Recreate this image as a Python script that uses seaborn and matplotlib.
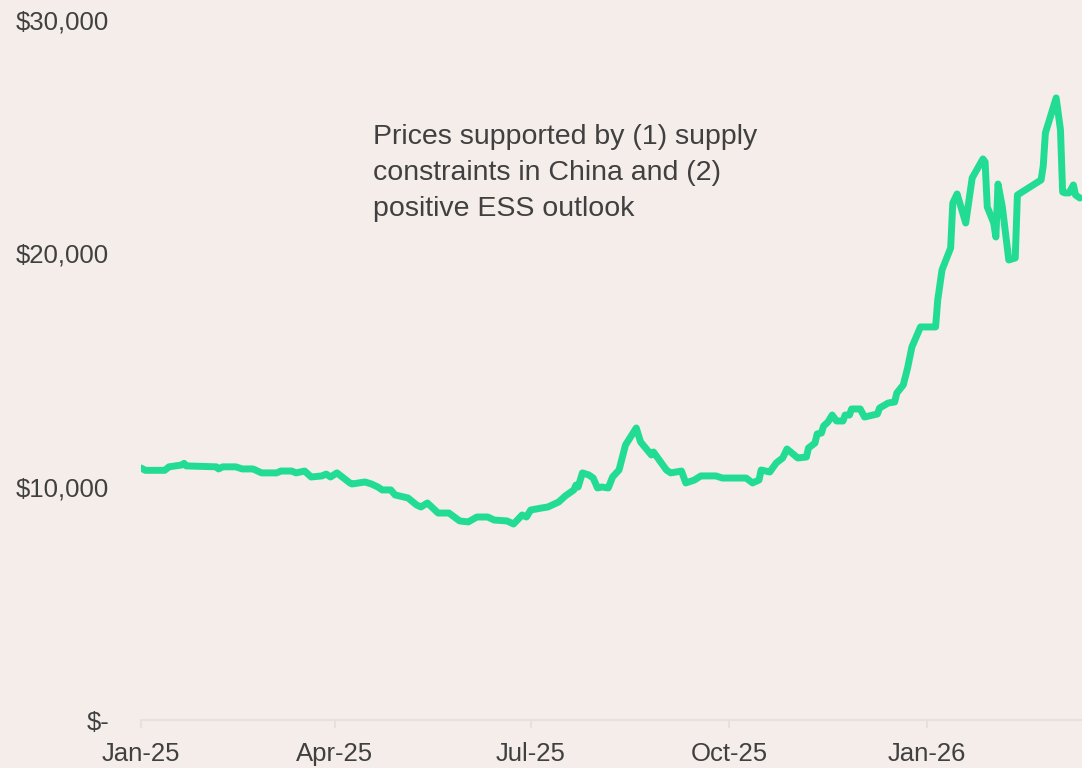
import pandas as pd
import seaborn as sns
import matplotlib.pyplot as plt
import matplotlib.dates as mdates
from matplotlib.ticker import FuncFormatter

dates = [
    "2025-01-01", "2025-01-03", "2025-01-12", "2025-01-14", "2025-01-20", "2025-01-21",
    "2025-01-22", "2025-02-05", "2025-02-06", "2025-02-08", "2025-02-14", "2025-02-17",
    "2025-02-22", "2025-02-26", "2025-03-05", "2025-03-07", "2025-03-12", "2025-03-14",
    "2025-03-18", "2025-03-21", "2025-03-26", "2025-03-28", "2025-03-30", "2025-04-02",
    "2025-04-08", "2025-04-09", "2025-04-15", "2025-04-18", "2025-04-21", "2025-04-23",
    "2025-04-27", "2025-04-29", "2025-05-05", "2025-05-09", "2025-05-11", "2025-05-14",
    "2025-05-19", "2025-05-24", "2025-05-29", "2025-06-02", "2025-06-06", "2025-06-11",
    "2025-06-14", "2025-06-20", "2025-06-23", "2025-06-27", "2025-06-29", "2025-07-01",
    "2025-07-06", "2025-07-09", "2025-07-14", "2025-07-17", "2025-07-21", "2025-07-22",
    "2025-07-23", "2025-07-25", "2025-07-28", "2025-07-30", "2025-08-01", "2025-08-03",
    "2025-08-06", "2025-08-08", "2025-08-11", "2025-08-14", "2025-08-19", "2025-08-21",
    "2025-08-26", "2025-08-27", "2025-08-29", "2025-09-02", "2025-09-04", "2025-09-09",
    "2025-09-11", "2025-09-15", "2025-09-18", "2025-09-25", "2025-09-28", "2025-10-09",
    "2025-10-12", "2025-10-15", "2025-10-16", "2025-10-20", "2025-10-23", "2025-10-26",
    "2025-10-28", "2025-11-02", "2025-11-06", "2025-11-07", "2025-11-10", "2025-11-11",
    "2025-11-13", "2025-11-14", "2025-11-16", "2025-11-18", "2025-11-20", "2025-11-23",
    "2025-11-24", "2025-11-26", "2025-11-27", "2025-12-01", "2025-12-03", "2025-12-09",
    "2025-12-10", "2025-12-14", "2025-12-17", "2025-12-18", "2025-12-21", "2025-12-23",
    "2025-12-25", "2025-12-29", "2026-01-05", "2026-01-06", "2026-01-08", "2026-01-12",
    "2026-01-13", "2026-01-15", "2026-01-19", "2026-01-22", "2026-01-27", "2026-01-28",
    "2026-01-29", "2026-02-01", "2026-02-02", "2026-02-03", "2026-02-05", "2026-02-08",
    "2026-02-11", "2026-02-12", "2026-02-23", "2026-02-24", "2026-02-25", "2026-03-02",
    "2026-03-04", "2026-03-05", "2026-03-06", "2026-03-08", "2026-03-10", "2026-03-11",
    "2026-03-13",
]

prices = [
    10800, 10700, 10700, 10850, 10930, 11000,
    10890, 10850, 10760, 10850, 10850, 10760,
    10760, 10590, 10590, 10670, 10670, 10590,
    10670, 10415, 10460, 10540, 10415, 10590,
    10160, 10115, 10200, 10115, 9985, 9860,
    9860, 9645, 9515, 9215, 9130, 9300,
    8870, 8870, 8530, 8490, 8700, 8700,
    8570, 8530, 8400, 8785, 8700, 9000,
    9085, 9130, 9345, 9600, 9860, 10070,
    9985, 10590, 10500, 10370, 9945, 9985,
    9945, 10415, 10715, 11785, 12515, 11915,
    11360, 11485, 11230, 10715, 10590, 10670,
    10160, 10285, 10460, 10460, 10370, 10370,
    10160, 10285, 10715, 10630, 11015, 11230,
    11615, 11230, 11270, 11660, 11870, 12260,
    12300, 12600, 12770, 13070, 12815, 12815,
    13070, 13070, 13330, 13330, 12985, 13115,
    13370, 13585, 13630, 14015, 14360, 15085,
    15985, 16845, 16845, 18000, 19290, 20230,
    22160, 22545, 21300, 23230, 24045, 23915,
    21990, 21300, 20700, 22970, 21990, 19715,
    19800, 22500, 23145, 23745, 25160, 26660,
    25290, 22630, 22590, 22590, 22930, 22500,
    22370,
]

y_ticks = [0, 10000, 20000, 30000]
note = "Prices supported by (1) supply\nconstraints in China and (2)\npositive ESS outlook"

bg = "#F4EDEA"
green = "#22DC93"
text_col = "#404040"
axis_col = "#E6E1DE"

sns.set_theme(style="white", rc={
    "figure.facecolor": bg,
    "axes.facecolor": bg,
})
plt.rcParams["font.family"] = ["Liberation Sans", "DejaVu Sans"]

df = pd.DataFrame({"date": pd.to_datetime(dates), "price": prices})

fig = plt.figure(figsize=(10.82, 7.68), dpi=100)
ax = fig.add_axes([141 / 1082, 48 / 768, 941 / 1082, 700 / 768])

sns.lineplot(data=df, x="date", y="price", ax=ax, color=green, linewidth=5,
             solid_joinstyle="round", solid_capstyle="round", clip_on=True)

ax.set_xlim(pd.Timestamp("2025-01-01"), pd.Timestamp("2026-03-14"))
ax.set_ylim(0, 30000)
ax.set_yticks(y_ticks)
ax.yaxis.set_major_formatter(FuncFormatter(lambda v, p: "$-" if v == 0 else f"${v:,.0f}"))
ax.xaxis.set_major_locator(mdates.MonthLocator(bymonth=[1, 4, 7, 10]))
ax.xaxis.set_major_formatter(mdates.DateFormatter("%b-%y"))

ax.set_xlabel("")
ax.set_ylabel("")
for side in ["left", "right", "top"]:
    ax.spines[side].set_visible(False)
ax.spines["bottom"].set_color(axis_col)
ax.spines["bottom"].set_linewidth(1.5)

ax.tick_params(axis="x", colors=axis_col, labelcolor=text_col, labelsize=18.5,
               length=6, width=1.5, direction="out", bottom=True, pad=10)
ax.tick_params(axis="y", labelcolor=text_col, labelsize=18.5, length=0, pad=23)

ax.text(0.2466, 0.852, note, transform=ax.transAxes, ha="left", va="top",
        fontsize=20.5, color=text_col, linespacing=1.52)

fig.savefig("out.png", dpi=100, facecolor=bg)
